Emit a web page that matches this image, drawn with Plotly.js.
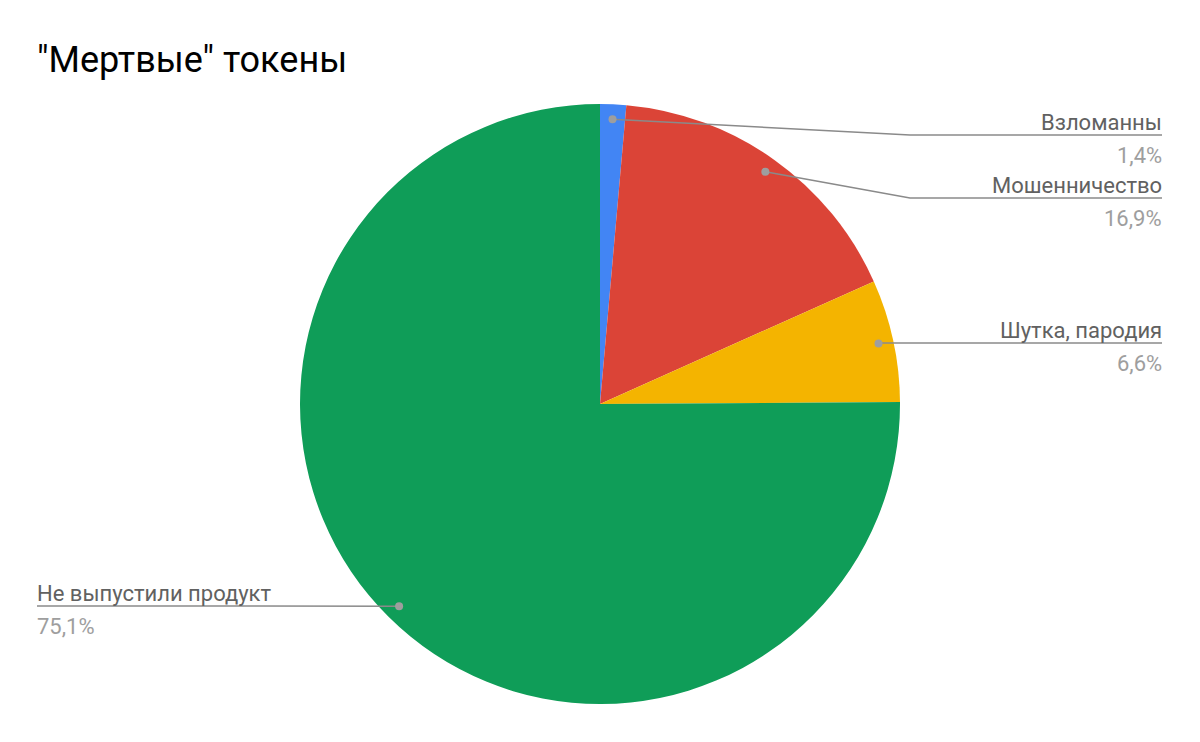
<!DOCTYPE html>
<html><head><meta charset="utf-8">
<script src="https://cdn.plot.ly/plotly-3.0.1.min.js"></script>
<style>html,body{margin:0;padding:0;background:#fff}</style>
</head><body>
<div id="chart" style="width:1200px;height:742px"></div>
<script>
const categories = ["Взломанны", "Мошенничество", "Шутка, пародия", "Не выпустили продукт"];
const values = [1.4, 16.9, 6.6, 75.1];
const percentLabels = ["1,4%", "16,9%", "6,6%", "75,1%"];
const colors = ["#4285F4", "#DB4437", "#F4B400", "#0F9D58"];

const W = 1200, H = 742;
// pie geometry in pixels (layout)
const cx = 600, cy = 404, R = 300;
// label layout (pixel rows of the underline, side)
const labelRows = [135, 198, 343, 606];
const labelSide = ["right", "right", "right", "left"];
const elbowX = [910, 910, null, null];
const rightX = 1162, leftX = 37;

const px = x => x / W;
const py = y => (H - y) / H;

const total = values.reduce((a, b) => a + b, 0);
const shapes = [], annotations = [];
let cum = 0;
values.forEach((v, i) => {
  const mid = (cum + v / 2) / total * 2 * Math.PI;
  cum += v;
  const r = 0.95 * R;
  const dx = cx + r * Math.sin(mid), dy = cy - r * Math.cos(mid);
  const rowY = labelRows[i];
  const lineColor = "#8a8a8a";
  if (labelSide[i] === "right") {
    const ex = elbowX[i] !== null ? elbowX[i] : dx;
    shapes.push({type: "path", xref: "paper", yref: "paper",
      path: `M ${px(dx)} ${py(dy)} L ${px(ex)} ${py(rowY)} L ${px(rightX)} ${py(rowY)}`,
      line: {color: lineColor, width: 1.5}});
  } else {
    shapes.push({type: "path", xref: "paper", yref: "paper",
      path: `M ${px(dx)} ${py(dy)} L ${px(leftX)} ${py(rowY)}`,
      line: {color: lineColor, width: 1.5}});
  }
  shapes.push({type: "circle", xref: "paper", yref: "paper", xsizemode: "pixel", ysizemode: "pixel",
    xanchor: px(dx), yanchor: py(dy), x0: -4, x1: 4, y0: -4, y1: 4,
    fillcolor: "#9e9e9e", line: {width: 0}});
  const ax = labelSide[i] === "right" ? px(rightX) : px(leftX);
  const xa = labelSide[i] === "right" ? "right" : "left";
  annotations.push({xref: "paper", yref: "paper", x: ax, y: py(rowY + 2), xanchor: xa, yanchor: "bottom",
    text: categories[i], showarrow: false, font: {family: "Roboto", size: 22, color: "#616161"},
    xshift: labelSide[i] === "right" ? 2 : -2});
  annotations.push({xref: "paper", yref: "paper", x: ax, y: py(rowY + 6), xanchor: xa, yanchor: "top",
    text: percentLabels[i], showarrow: false, font: {family: "Roboto", size: 22, color: "#9e9e9e"},
    xshift: labelSide[i] === "right" ? 2 : -2});
});

const trace = {
  type: "pie",
  labels: categories,
  values: values,
  sort: false,
  direction: "clockwise",
  rotation: 0,
  textinfo: "none",
  hoverinfo: "label+percent",
  marker: {colors: colors, line: {color: "#ffffff", width: 0}},
  domain: {x: [px(cx - R), px(cx + R)], y: [py(cy + R), py(cy - R)]},
  showlegend: false
};

const layout = {
  width: W, height: H,
  margin: {l: 0, r: 0, t: 0, b: 0},
  paper_bgcolor: "#ffffff",
  font: {family: "Roboto"},
  title: {text: '"Мертвые" токены', x: 37 / W, xanchor: "left", xref: "container",
    y: 1 - 59 / H, yref: "container", yanchor: "middle",
    font: {family: "Roboto", size: 36, color: "#000000"}},
  shapes: shapes,
  annotations: annotations,
  showlegend: false
};

Plotly.newPlot("chart", [trace], layout, {displayModeBar: false, staticPlot: true});
</script>
</body></html>
